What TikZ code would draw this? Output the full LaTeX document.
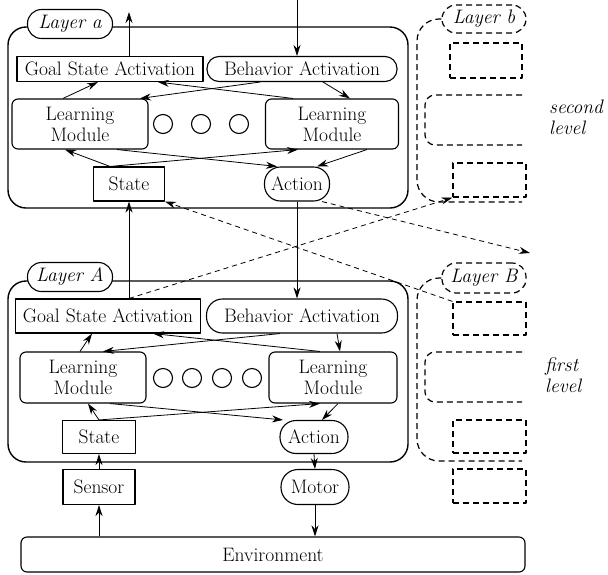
\documentclass[tikz,border=0pt]{standalone}
\usetikzlibrary{arrows.meta}

\newcommand{\diagfont}{\rmfamily\fontsize{19.5}{21}\selectfont}

\tikzset{
  box/.style={draw, rectangle, line width=1.1pt, inner sep=0pt, font=\diagfont},
  pill/.style={box, rounded corners=14pt},
  module/.style={box, rounded corners=6pt, align=center},
  dot/.style={draw, circle, line width=1.1pt, minimum size=19pt, inner sep=0pt},
  frame/.style={draw, line width=1.4pt, rounded corners=18pt, inner sep=0pt},
  tag/.style={pill, fill=white, font=\diagfont\itshape},
  ghost/.style={draw, line width=1.2pt, dash pattern=on 6pt off 4pt, inner sep=0pt},
  ghosttag/.style={tag, ghost, rounded corners=14pt},
  flow/.style={-{Stealth[length=11pt,width=7pt]}, line width=0.8pt},
  jump/.style={flow, dash pattern=on 5pt off 4pt}
}

\begin{document}
\begin{tikzpicture}[x=1pt, y=-1pt, line join=round]
    % Fix the page to the reference size
    \useasboundingbox (0,0) rectangle (608,574);

    % ---------------- second level: layer a ----------------
    \node[frame, minimum width=400pt, minimum height=181pt] (La) at (208,117.5) {};
    \node[tag, minimum width=85pt, minimum height=29pt] (ta) at (70,24) {Layer a};

    \node[box, minimum width=186pt, minimum height=25pt] (GSAa) at (110,69) {Goal State Activation};
    \node[pill, rounded corners=12pt, minimum width=190pt, minimum height=25pt] (BAa) at (302,69) {Behavior Activation};
    \node[module, minimum width=136pt, minimum height=50pt] (LMla) at (80,124) {Learning\\Module};
    \node[module, minimum width=133pt, minimum height=50pt] (LMra) at (332,124) {Learning\\Module};
    \foreach \x/\n in {163/1, 201/2, 239/3}
      \node[dot] (da\n) at (\x,124) {};
    \node[box, minimum width=71pt, minimum height=34pt] (Sa) at (129,184) {State};
    \node[pill, rounded corners=16pt, minimum width=65pt, minimum height=34pt] (Aa) at (297,184) {Action};

    % connections inside layer a
    \draw[flow] ([xshift=-17pt]LMla.north) -- ([xshift=-12pt]GSAa.south);
    \draw[flow] ([xshift=-39pt]LMra.north) -- ([xshift=48pt]GSAa.south);
    \draw[flow] ([xshift=-42pt]BAa.south) -- ([xshift=60pt]LMla.north);
    \draw[flow] ([xshift=21pt]BAa.south) -- ([xshift=18pt]LMra.north);
    \draw[flow] ([xshift=-19pt]Sa.north) -- ([xshift=-15pt]LMla.south);
    \draw[flow] ([xshift=-19pt]Sa.north) -- ([xshift=-34pt]LMra.south);
    \draw[flow] ([xshift=37pt]LMla.south) -- ([xshift=-20pt]Aa.north);
    \draw[flow] ([xshift=35pt]LMra.south) -- ([xshift=20pt]Aa.north);

    % upward and downward links of layer a
    \coordinate (outa) at (129,12);
    \coordinate (ina) at (297,0);
    \draw[flow] (GSAa.north -| Sa) -- (outa);
    \draw[flow] (ina) -- (BAa.north -| ina);

    % ---------------- second level: layer b (sketched) ----------------
    \node[ghosttag, fill=white, minimum width=84pt, minimum height=28pt] (tb) at (484,19) {Layer b};
    \draw[ghost, rounded corners=22pt] (tb.west) -| (417,202) -- (522,202);
    \node[ghost, minimum width=72pt, minimum height=35pt] (bUp) at (486,60.5) {};
    \draw[ghost, rounded corners=10pt] (522,95) -- (425,95) -- (425,145) -- (522,145);
    \node[ghost, minimum width=73pt, minimum height=34pt] (bLow) at (489.5,180) {};
    \node[font=\diagfont\itshape, align=left, anchor=west, inner sep=0pt] (lev2) at (549,117) {second\\level};

    % ---------------- first level: layer A ----------------
    \node[frame, minimum width=400pt, minimum height=181pt] (LA) at (208,371.5) {};
    \node[tag, minimum width=85pt, minimum height=29pt] (tA) at (70,277) {Layer A};

    \node[box, minimum width=185pt, minimum height=34pt] (GSAA) at (108,316) {Goal State Activation};
    \node[pill, rounded corners=16pt, minimum width=191pt, minimum height=34pt] (BAA) at (302,316) {Behavior Activation};
    \node[module, minimum width=126pt, minimum height=51pt] (LMlA) at (83,377.5) {Learning\\Module};
    \node[module, minimum width=128pt, minimum height=51pt] (LMrA) at (333,377.5) {Learning\\Module};
    \foreach \x/\n in {163/1, 192/2, 222/3, 252/4}
      \node[dot] (dA\n) at (\x,378) {};
    \node[box, minimum width=73pt, minimum height=33pt] (SA) at (99,437) {State};
    \node[pill, rounded corners=16pt, minimum width=68pt, minimum height=33pt] (AA) at (314,437) {Action};

    % connections inside layer A
    \draw[flow] ([xshift=-3pt]LMlA.north) -- ([xshift=-16pt]GSAA.south);
    \draw[flow] ([xshift=-13pt]LMrA.north) -- ([xshift=45pt]GSAA.south);
    \draw[flow] ([xshift=-22pt]BAA.south) -- ([xshift=20pt]LMlA.north);
    \draw[flow] ([xshift=35pt]BAA.south) -- ([xshift=7pt]LMrA.north);
    \draw[flow] (SA.north) -- ([xshift=5pt]LMlA.south);
    \draw[flow] (SA.north) -- ([xshift=-13pt]LMrA.south);
    \draw[flow] ([xshift=27pt]LMlA.south) -- ([xshift=-31pt]AA.north);
    \draw[flow] ([xshift=5pt]LMrA.south) -- ([xshift=8pt]AA.north);

    % ---------------- first level: layer B (sketched) ----------------
    \node[ghosttag, fill=white, minimum width=84pt, minimum height=30pt] (tB) at (484,278) {Layer B};
    \draw[ghost, rounded corners=22pt] (tB.west) -| (417,461) -- (522,461);
    \node[ghost, minimum width=73pt, minimum height=33pt] (BUp) at (489.5,318.5) {};
    \draw[ghost, rounded corners=10pt] (522,352) -- (425,352) -- (425,402) -- (522,402);
    \node[ghost, minimum width=73pt, minimum height=33pt] (BLow) at (489.5,436.5) {};
    \node[ghost, minimum width=73pt, minimum height=34pt] (BOut) at (489.5,486) {};
    \node[font=\diagfont\itshape, align=left, anchor=west, inner sep=0pt] (lev1) at (545,375) {first\\level};

    % ---------------- links between the levels ----------------
    \draw[flow] (GSAA.north -| Sa) -- (Sa.south);
    \draw[flow] (Aa.south) -- (BAA.north -| Aa);
    \draw[jump] (GSAA.north -| Sa) -- (bLow.south west);
    \coordinate (outB) at (530,253);
    \draw[jump] ([xshift=-8pt]Aa.south east) -- (outB);
    \draw[jump] (BUp.north west) -- (Sa.south east);

    % ---------------- body: sensor, motor, environment ----------------
    \node[box, minimum width=72pt, minimum height=35pt] (Sen) at (99,487) {Sensor};
    \node[pill, rounded corners=17pt, minimum width=68pt, minimum height=35pt] (Mot) at (315,487) {Motor};
    \node[box, rounded corners=6pt, minimum width=504pt, minimum height=35pt] (Env) at (273,554.5) {Environment};

    \draw[flow] (Sen.south |- Env.north) -- (Sen.south);
    \draw[flow] (Sen.north) -- (SA.south);
    \draw[flow] (AA.south) -- (Mot.north);
    \draw[flow] (Mot.south) -- (Mot.south |- Env.north);

\end{tikzpicture}
\end{document}
